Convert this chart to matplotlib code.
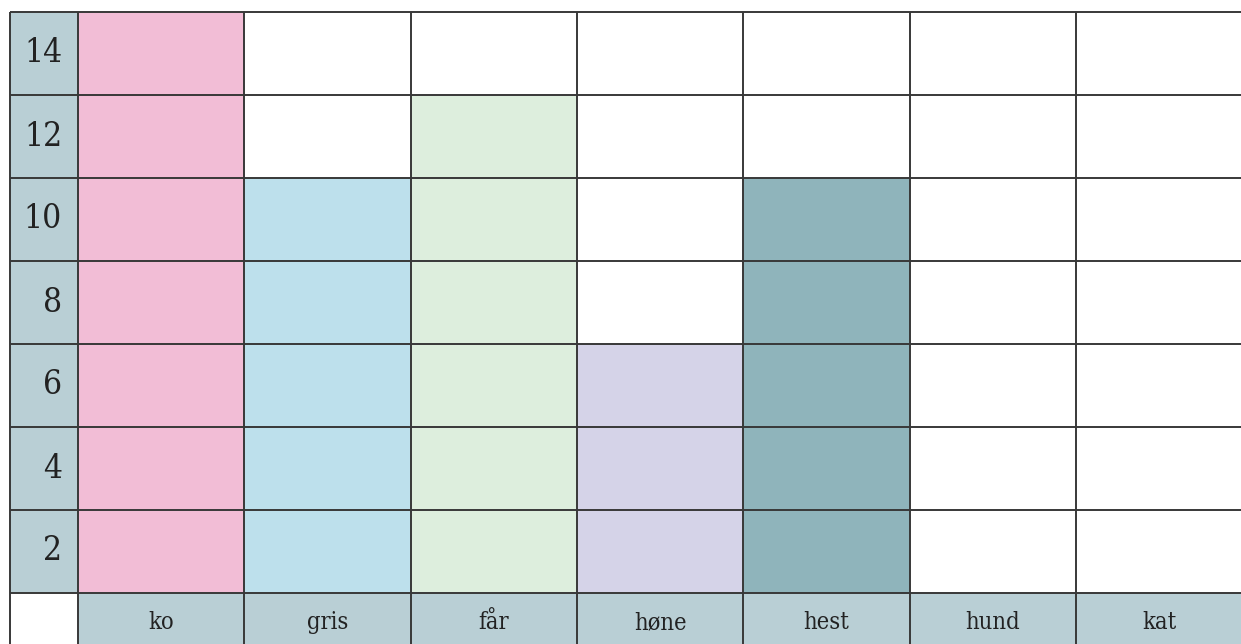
import numpy as np
import matplotlib.pyplot as plt
from matplotlib.patches import Rectangle

# dyr og antal
dyr = ["ko", "gris", "får", "høne", "hest", "hund", "kat"]
antal = [14, 10, 12, 6, 10, 0, 0]
farver = ["#f2bdd6", "#bde0ec", "#ddeedd", "#d5d3e8", "#8fb4bb", "#ffffff", "#ffffff"]
y_ticks = [2, 4, 6, 8, 10, 12, 14]

label_bg = "#b9cfd5"
line_col = "#383838"
col_px = 166.33
lab_w = 68 / col_px  # bredde af labelkolonnen i kolonne-enheder

fig = plt.figure(figsize=(12.41, 6.44), dpi=100)
ax = fig.add_axes([0, 0, 1, 1])
ax.set_xlim(-78 / col_px, (1241 - 78) / col_px)
ax.set_ylim(-51 / 41.5, 14 + 12 / 41.5)
ax.axis("off")

x = np.arange(len(dyr))
n = len(dyr)
right = n + 0.2  # sidste kolonne fortsætter ud over kanten

# labelfelter
ax.add_patch(Rectangle((-lab_w, 0), lab_w, 14, facecolor=label_bg, edgecolor="none", zorder=1))
ax.add_patch(Rectangle((0, -2), right, 2, facecolor=label_bg, edgecolor="none", zorder=1))

# søjler
ax.bar(x + 0.5, antal, width=1, color=farver, edgecolor="none", zorder=2)

# gitter
lw = 1.4
for yv in [0] + y_ticks:
    ax.plot([-lab_w, right], [yv, yv], color=line_col, lw=lw, zorder=3, solid_capstyle="butt")
for xv in [-lab_w] + list(range(n)):
    ax.plot([xv, xv], [-2, 14], color=line_col, lw=lw, zorder=3, solid_capstyle="butt")

# tekst
font = dict(family="DejaVu Serif", fontstretch="condensed", color="#222222")
for yv in y_ticks:
    ax.text(-0.096, yv - 1, str(yv), ha="right", va="center", fontsize=24, **font)
for xi, navn in zip(x, dyr):
    ax.text(xi + 0.5, -0.72, navn, ha="center", va="center", fontsize=17, **font)

fig.savefig("out.png", dpi=100)
